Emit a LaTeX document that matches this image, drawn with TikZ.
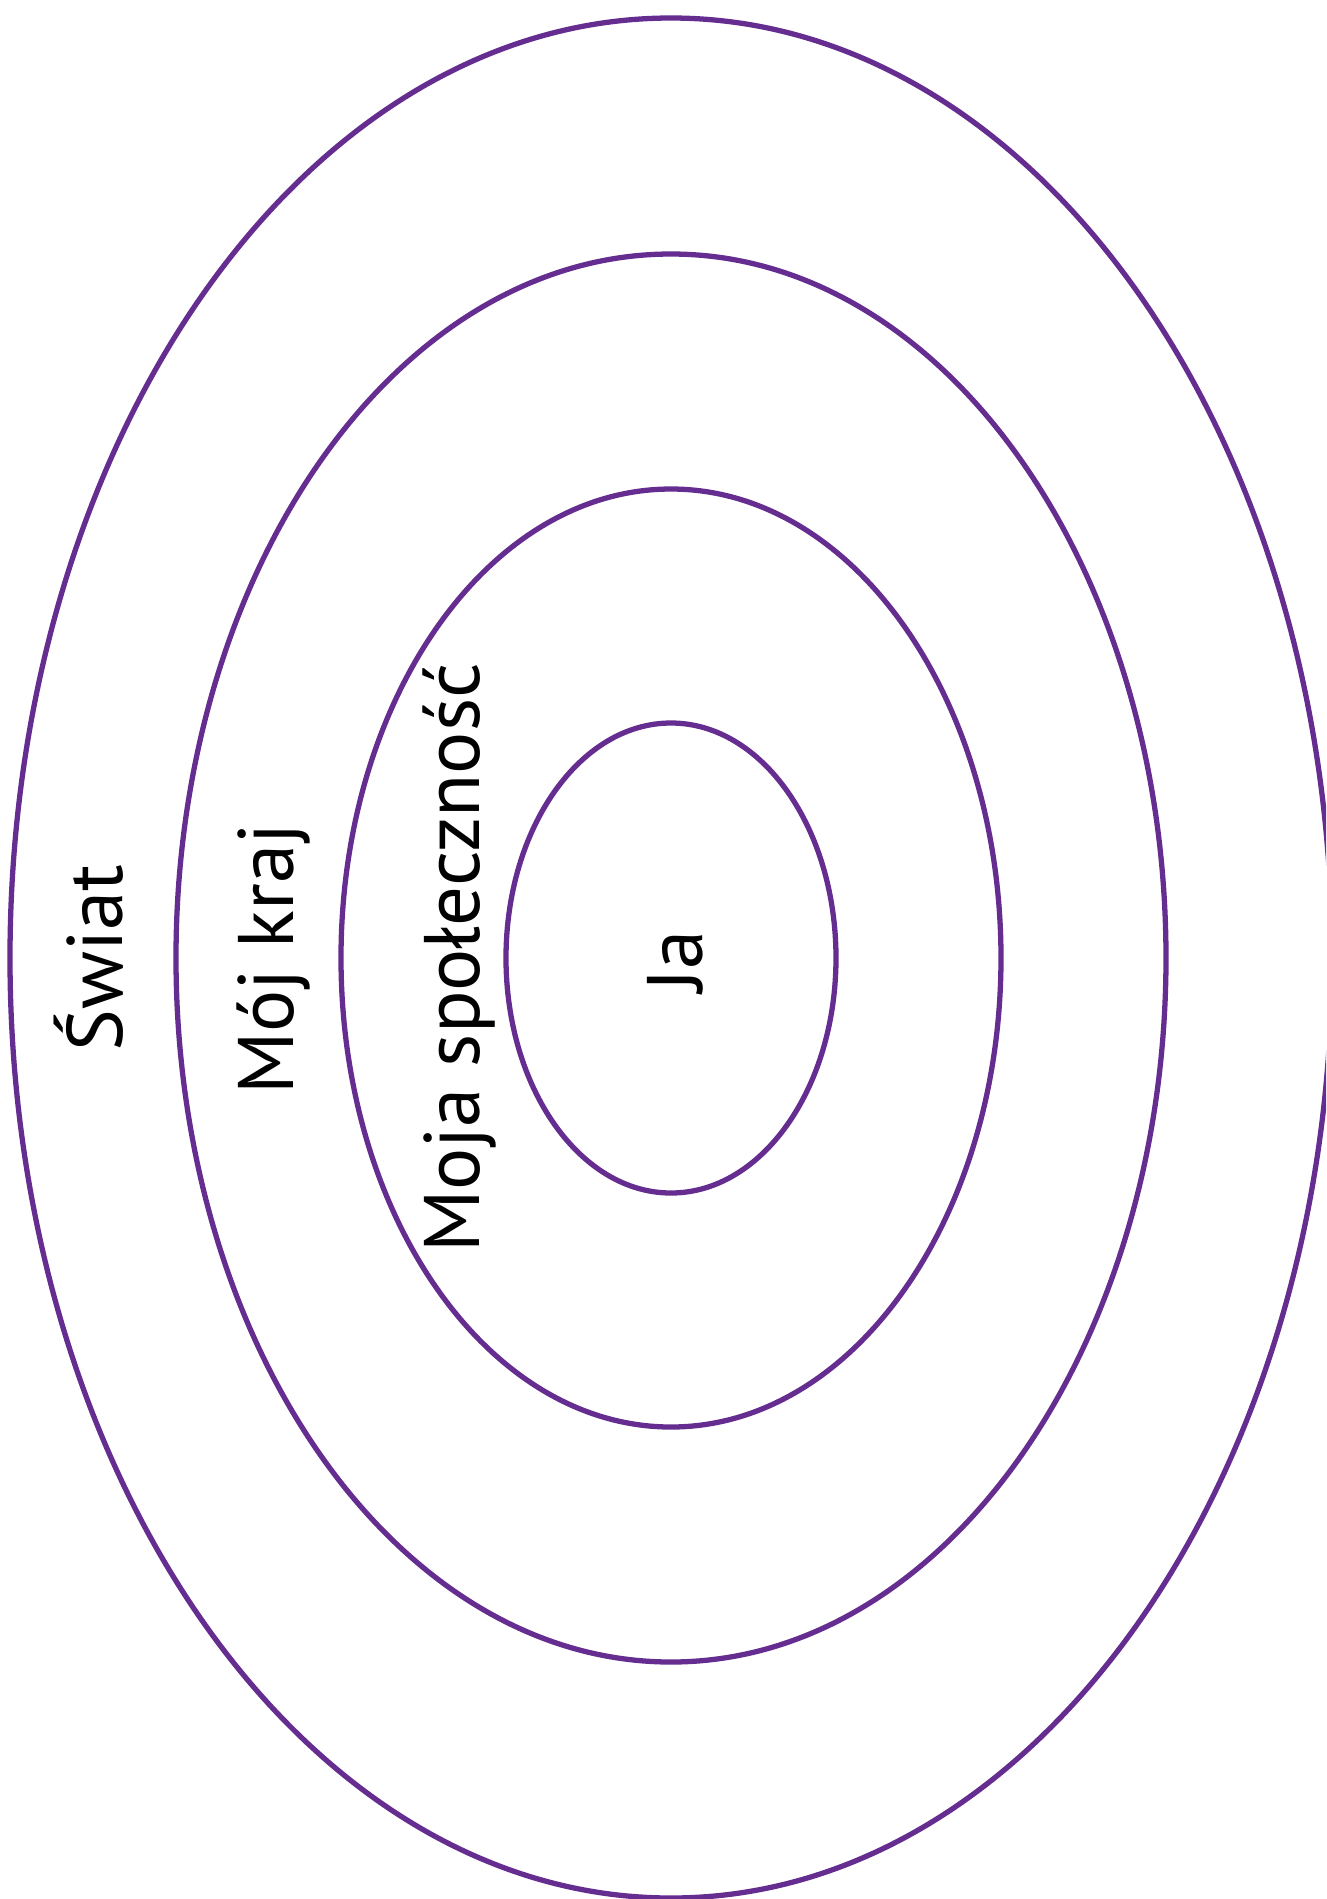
\documentclass[tikz,border=0pt]{standalone}
\usepackage{fontspec}
\setmainfont{PT Sans}
\usepackage{tikz}
\usetikzlibrary{
    calc        % calcoli con coordinate
}

\definecolor{viola}{RGB}{102,45,145}

\tikzset{
    anello/.style={draw=viola, line width=1.5pt},
    etichetta/.style={rotate=90, anchor=base, inner sep=0pt,
        font=\fontsize{22.4}{27}\selectfont}
}

\begin{document}
\begin{tikzpicture}[x=0.01cm, y=-0.01cm]

        % Area della figura
        \useasboundingbox (0,0) rectangle (1326,1899);
        \clip (0,0) rectangle (1326,1899);

        % Centro comune
        \coordinate (centro) at (671,958);

        % Ellissi concentriche
        \draw[anello] (centro) ellipse [x radius=165, y radius=235];
        \draw[anello] (centro) ellipse [x radius=330, y radius=469];
        \draw[anello] (centro) ellipse [x radius=495, y radius=704];
        \draw[anello] (centro) ellipse [x radius=661, y radius=940];

        % Etichette ruotate
        \node[etichetta] (swiat) at (123,958) {Świat};
        \node[etichetta] (kraj) at (293,959) {Mój kraj};
        \node[etichetta] (spolecznosc) at (479,958) {Moja społeczność};
        \node[etichetta] (ja) at (702,961) {Ja};

    \end{tikzpicture}
\end{document}
